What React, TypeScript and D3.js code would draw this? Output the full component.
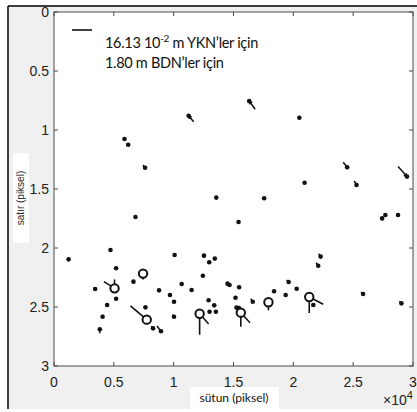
import React from "react";
import * as d3 from "d3";

// YKN points: [column (px), row, dColumn, dRow]  (vector tail offset, the dot is the head)
const yknPoints: [number, number, number, number][] = [
  [1220, 2.096, 0, 0],
  [4720, 2.017, 0, 0],
  [5190, 2.172, 0, 0],
  [3440, 2.347, -125, -0.013],
  [5190, 2.43, 0, 0],
  [4440, 2.483, 0, 0],
  [4060, 2.582, 0, -0.017],
  [3830, 2.689, 0, 0.034],
  [6640, 2.285, 0, 0],
  [7640, 2.503, 0, 0],
  [8280, 2.681, -170, -0.017],
  [8940, 2.706, -330, -0.045],
  [8780, 2.359, 0, 0],
  [10080, 2.059, 0, 0],
  [9690, 2.398, 0, 0],
  [10030, 2.455, 0, 0],
  [10030, 2.582, -125, -0.017],
  [10670, 2.305, 0, 0],
  [11500, 2.356, 0, 0],
  [12530, 2.065, 0, 0],
  [12970, 2.121, 0, 0],
  [13440, 2.09, 0, 0],
  [12440, 2.235, 0, 0],
  [12920, 2.443, 0, 0],
  [13390, 2.486, 0, 0],
  [13000, 2.54, 0, 0],
  [13530, 2.54, 0, 0],
  [14500, 2.302, 0, 0],
  [14670, 2.314, 0, 0],
  [15470, 2.333, 0, 0],
  [15170, 2.421, 0, 0],
  [15250, 2.505, 0, 0],
  [15450, 2.508, 0, 0],
  [16610, 2.455, -170, -0.025],
  [18390, 2.367, 0, 0],
  [19360, 2.398, 0, 0],
  [19610, 2.288, -170, -0.017],
  [20280, 2.345, 0, 0],
  [21670, 2.483, 0, 0],
  [22080, 2.15, -170, -0.025],
  [22280, 2.073, -170, -0.025],
  [25830, 2.39, -170, -0.017],
  [29030, 2.469, -170, -0.017],
  [5890, 1.076, 0, 0],
  [6200, 1.125, 0, 0],
  [7610, 1.32, -170, -0.023],
  [11250, 0.879, 420, 0.051],
  [16310, 0.754, 500, 0.07],
  [20500, 0.896, 0, 0],
  [13560, 1.573, 0, 0],
  [17560, 1.579, 0, 0],
  [20940, 1.447, 0, 0],
  [24500, 1.316, -330, -0.042],
  [25280, 1.466, -190, -0.034],
  [29500, 1.395, -750, -0.085],
  [6810, 1.737, 0, 0],
  [15420, 1.78, 0, 0],
  [27420, 1.749, 0, 0],
  [27690, 1.72, 0, 0],
  [28750, 1.72, 0, 0],
  // vectors at the BDN locations
  [5060, 2.342, 0, -0.076],
  [12170, 2.557, 750, 0.087],
  [15610, 2.548, 775, 0.085],
  [17920, 2.46, 190, -0.028],
  [21330, 2.415, 1170, 0.062],
];

// BDN points: [column (px), row, dColumn, dRow]
const bdnPoints: [number, number, number, number][] = [
  [5060, 2.342, -890, -0.057],
  [7440, 2.217, 0, 0.051],
  [7750, 2.607, -1360, -0.116],
  [12170, 2.557, 0, 0.178],
  [15610, 2.548, 0, 0.119],
  [17920, 2.46, 0, 0.068],
  [21330, 2.415, 0, 0.136],
];

const xTicks = [0, 5000, 10000, 15000, 20000, 25000, 30000];
const xTickLabels = ["0", "0.5", "1", "1.5", "2", "2.5", "3"];
const yTicks = [0, 0.5, 1, 1.5, 2, 2.5, 3];
const yTickLabels = ["0", "0.5", "1", "1.5", "2", "2.5", "3"];

const legendLines = ["16.13 10", "1.80 m BDN\u2019ler için"];

export default function App() {
  const W = 417;
  const H = 412;
  const plot = { left: 54, right: 413, top: 12, bottom: 366 };

  const x = d3.scaleLinear().domain([0, 30000]).range([plot.left, plot.right]);
  const y = d3.scaleLinear().domain([0, 3]).range([plot.top, plot.bottom]);

  const axisColor = "#4a4a4a";
  const tickFont = "'Liberation Sans', Arial, sans-serif";
  const textFont = "Lato, 'Open Sans', sans-serif";

  const arrowHead = (x1: number, y1: number, x2: number, y2: number) => {
    const len = Math.hypot(x2 - x1, y2 - y1);
    if (len < 7) return null;
    const a = Math.atan2(y2 - y1, x2 - x1);
    const h = 3.5;
    const p1 = [x2 - h * Math.cos(a - 0.45), y2 - h * Math.sin(a - 0.45)];
    const p2 = [x2 - h * Math.cos(a + 0.45), y2 - h * Math.sin(a + 0.45)];
    return `M${p1[0]},${p1[1]}L${x2},${y2}L${p2[0]},${p2[1]}`;
  };

  return (
    <svg
      width={W}
      height={H}
      style={{ position: "absolute", left: 0, top: 0, display: "block" }}
    >
      <defs>
        <clipPath id="panel">
          <rect x={8} y={6} width={W - 8} height={403} />
        </clipPath>
      </defs>
      <rect x={0} y={0} width={W} height={H} fill="#fff" />
      <rect x={8} y={6} width={W - 8} height={403} fill="#f0f0f0" />

      {/* label boxes */}
      <rect x={13} y={153} width={16} height={90} fill="#fff" />
      <rect x={190} y={387} width={89} height={22} fill="#fff" />

      {/* plot area */}
      <rect
        x={plot.left}
        y={plot.top}
        width={plot.right - plot.left}
        height={plot.bottom - plot.top}
        fill="#fff"
      />

      <g clipPath="url(#panel)">
        {/* y tick labels */}
        {yTicks.map((t, i) => (
          <text
            key={"yl" + i}
            x={plot.left - 5}
            y={y(t)}
            dy="0.35em"
            textAnchor="end"
            fontFamily={tickFont}
            fontSize={14}
            fill="#222"
          >
            {yTickLabels[i]}
          </text>
        ))}
      </g>

      {/* x tick labels */}
      {xTicks.map((t, i) => (
        <text
          key={"xl" + i}
          x={x(t)}
          y={plot.bottom + 16}
          dy="0.35em"
          textAnchor="middle"
          fontFamily={tickFont}
          fontSize={14}
          fill="#222"
        >
          {xTickLabels[i]}
        </text>
      ))}
      <text x={383} y={405} fontFamily={tickFont} fontSize={14} fill="#222">
        ×10
        <tspan dy={-6} fontSize={11}>
          4
        </tspan>
      </text>

      {/* axis titles */}
      <text
        transform={`translate(24,198) rotate(-90)`}
        textAnchor="middle"
        fontFamily={tickFont}
        fontSize={10}
        fill="#222"
      >
        satır (piksel)
      </text>
      <text
        x={234}
        y={402}
        textAnchor="middle"
        fontFamily={textFont}
        fontSize={12}
        fill="#111"
      >
        sütun (piksel)
      </text>

      {/* frame & ticks */}
      <rect
        x={plot.left}
        y={plot.top}
        width={plot.right - plot.left}
        height={plot.bottom - plot.top}
        fill="none"
        stroke={axisColor}
        strokeWidth={1}
      />
      {xTicks.map((t, i) => (
        <g key={"xt" + i} stroke={axisColor}>
          <line x1={x(t)} x2={x(t)} y1={plot.bottom} y2={plot.bottom - 4} />
          <line x1={x(t)} x2={x(t)} y1={plot.top} y2={plot.top + 4} />
        </g>
      ))}
      {yTicks.map((t, i) => (
        <g key={"yt" + i} stroke={axisColor}>
          <line x1={plot.left} x2={plot.left + 4} y1={y(t)} y2={y(t)} />
          <line x1={plot.right} x2={plot.right - 4} y1={y(t)} y2={y(t)} />
        </g>
      ))}

      {/* YKN vectors */}
      {yknPoints.map(([c, r, dc, dr], i) => {
        const x2 = x(c);
        const y2 = y(r);
        const x1 = x(c + dc);
        const y1 = y(r + dr);
        const head = arrowHead(x1, y1, x2, y2);
        return (
          <g key={"yk" + i}>
            {(dc !== 0 || dr !== 0) && (
              <line x1={x1} y1={y1} x2={x2} y2={y2} stroke="#111" strokeWidth={1.5} />
            )}
            {head && <path d={head} fill="none" stroke="#111" strokeWidth={1.5} />}
            <circle cx={x2} cy={y2} r={2.3} fill="#111" />
          </g>
        );
      })}

      {/* BDN vectors */}
      {bdnPoints.map(([c, r, dc, dr], i) => (
        <line
          key={"bl" + i}
          x1={x(c)}
          y1={y(r)}
          x2={x(c + dc)}
          y2={y(r + dr)}
          stroke="#111"
          strokeWidth={1.6}
        />
      ))}
      {bdnPoints.map(([c, r], i) => (
        <circle
          key={"bc" + i}
          cx={x(c)}
          cy={y(r)}
          r={4.2}
          fill="#fff"
          stroke="#111"
          strokeWidth={2}
        />
      ))}

      {/* legend */}
      <line x1={72} x2={92} y1={30} y2={30} stroke="#111" strokeWidth={1.6} />
      <text x={105} y={48} fontFamily={textFont} fontSize={14.5} letterSpacing={-0.3} fill="#111">
        {legendLines[0]}
        <tspan dy={-6} fontSize={10}>
          -2
        </tspan>
        <tspan dy={6}> m YKN’ler için</tspan>
      </text>
      <text x={105} y={68} fontFamily={textFont} fontSize={14.5} letterSpacing={-0.3} fill="#111">
        {legendLines[1]}
      </text>

      {/* outer border */}
      <line x1={8} x2={8} y1={6} y2={409} stroke="#000" strokeWidth={1.5} />
      <line x1={8} x2={W} y1={6} y2={6} stroke="#000" strokeWidth={1.5} />
    </svg>
  );
}
